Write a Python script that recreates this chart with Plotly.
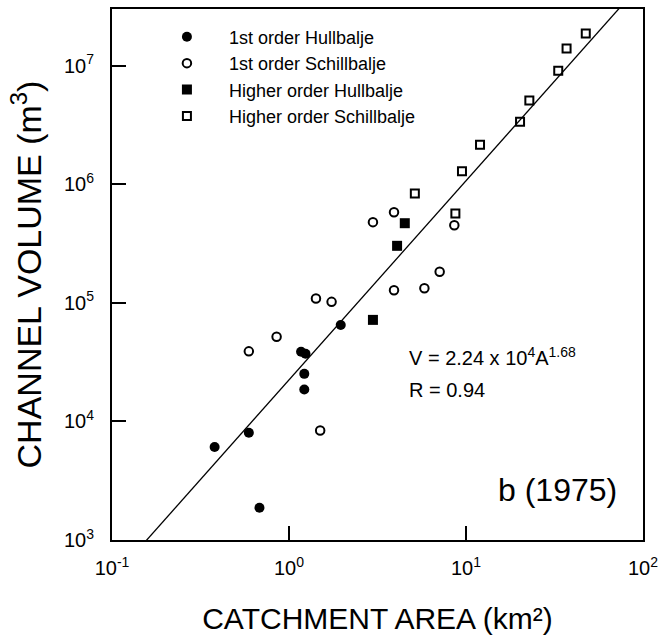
import numpy as np
import plotly.graph_objects as go

# 1st order Hullbalje (filled circles)
h1_area = [1.96, 1.17, 1.24, 1.22, 1.22, 0.593, 0.380, 0.681]
h1_vol = [6.5e4, 3.87e4, 3.72e4, 2.52e4, 1.86e4, 8.04e3, 6.08e3, 1.87e3]

# 1st order Schillbalje (open circles)
s1_area = [2.98, 3.92, 8.59, 7.10, 3.92, 5.82, 1.42, 1.74, 0.851, 0.593, 1.50]
s1_vol = [4.80e5, 5.82e5, 4.52e5, 1.83e5, 1.28e5, 1.33e5, 1.09e5, 1.02e5, 5.18e4, 3.90e4, 8.40e3]

# Higher order Hullbalje (filled squares)
hh_area = [4.51, 4.08, 2.98]
hh_vol = [4.70e5, 3.03e5, 7.19e4]

# Higher order Schillbalje (open squares)
sh_area = [47.5, 37.0, 33.2, 22.8, 20.2, 12.0, 9.49, 5.14, 8.71]
sh_vol = [1.87e7, 1.40e7, 9.08e6, 5.1e6, 3.38e6, 2.16e6, 1.29e6, 8.36e5, 5.68e5]

# Regression V = a * A^b
fit_a = 2.24e4
fit_b = 1.68
fit_area = [0.1, 100.0]

x_ticks = [0.1, 1, 10, 100]
x_ticktext = ["10<sup>-1</sup>", "10<sup>0</sup>", "10<sup>1</sup>", "10<sup>2</sup>"]
y_ticks = [1e3, 1e4, 1e5, 1e6, 1e7]
y_ticktext = ["10<sup>3</sup>", "10<sup>4</sup>", "10<sup>5</sup>", "10<sup>6</sup>", "10<sup>7</sup>"]

FONT = "Liberation Sans, Arial, sans-serif"

fig = go.Figure()

fit_vol = [fit_a * a ** fit_b for a in fit_area]
fig.add_trace(go.Scatter(x=fit_area, y=fit_vol, mode="lines",
                         line=dict(color="black", width=1.3), showlegend=False,
                         hoverinfo="skip"))

fig.add_trace(go.Scatter(x=h1_area, y=h1_vol, mode="markers", name="1st order Hullbalje",
                         marker=dict(symbol="circle", size=10, color="black")))
fig.add_trace(go.Scatter(x=s1_area, y=s1_vol, mode="markers", name="1st order Schillbalje",
                         marker=dict(symbol="circle-open", size=8.5, color="black",
                                     line=dict(width=2, color="black"))))
fig.add_trace(go.Scatter(x=hh_area, y=hh_vol, mode="markers", name="Higher order Hullbalje",
                         marker=dict(symbol="square", size=10, color="black")))
fig.add_trace(go.Scatter(x=sh_area, y=sh_vol, mode="markers", name="Higher order Schillbalje",
                         marker=dict(symbol="square-open", size=8, color="black",
                                     line=dict(width=2, color="black"))))

fig.update_layout(
    width=665, height=641,
    margin=dict(l=112, r=20, t=7, b=101),
    paper_bgcolor="white", plot_bgcolor="white",
    font=dict(family=FONT, color="black", size=20),
    showlegend=True,
    legend=dict(x=0.062, y=0.982, xanchor="left", yanchor="top",
                font=dict(size=18, family=FONT), itemwidth=74,
                bgcolor="rgba(0,0,0,0)", borderwidth=0, tracegroupgap=0),
    xaxis=dict(type="log", range=[-1, 2], tickvals=x_ticks, ticktext=x_ticktext,
               ticks="inside", ticklen=14, tickwidth=1.5, tickcolor="black",
               showline=True, linecolor="black", linewidth=2, mirror=True,
               showgrid=False, zeroline=False, ticklabelstandoff=9,
               tickfont=dict(size=20, family=FONT),
               title=dict(text="CATCHMENT AREA (km²)", font=dict(size=30, family=FONT),
                          standoff=30)),
    yaxis=dict(type="log", range=[3, 7.479], tickvals=y_ticks, ticktext=y_ticktext,
               ticks="inside", ticklen=14, tickwidth=1.5, tickcolor="black",
               showline=True, linecolor="black", linewidth=2, mirror=True,
               showgrid=False, zeroline=False, ticklabelstandoff=12,
               tickfont=dict(size=20, family=FONT),
               title=dict(text="CHANNEL VOLUME (m<sup>3</sup>)", font=dict(size=34, family=FONT),
                          standoff=12)),
    annotations=[
        dict(x=0.555, y=0.345, xref="paper", yref="paper", xanchor="left", yanchor="middle",
             text="V = 2.24 x 10<sup>4</sup>A<sup>1.68</sup>", showarrow=False,
             font=dict(size=20, family=FONT)),
        dict(x=0.555, y=0.283, xref="paper", yref="paper", xanchor="left", yanchor="middle",
             text="R = 0.94", showarrow=False, font=dict(size=20, family=FONT)),
        dict(x=0.955, y=0.094, xref="paper", yref="paper", xanchor="right", yanchor="middle",
             text="b (1975)", showarrow=False, font=dict(size=32, family=FONT)),
    ],
)

fig.write_html("out.html")
